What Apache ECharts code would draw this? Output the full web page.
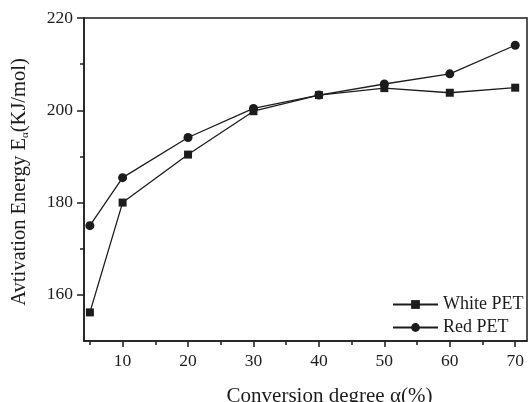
<!DOCTYPE html>
<html>
<head>
<meta charset="utf-8">
<script src="https://cdn.jsdelivr.net/npm/echarts@6/dist/echarts.min.js"></script>
<style>
  html, body { margin: 0; padding: 0; background: #fff; }
  #chart { width: 529px; height: 402px; }
</style>
</head>
<body>
<div id="chart"></div>
<script>
// conversion degree (%)
const conversion = [5, 10, 20, 30, 40, 50, 60, 70]
// activation energy (kJ/mol)
const whitePET = [156.2, 180.0, 190.4, 199.8, 203.3, 204.8, 203.8, 204.9]
const redPET = [175.0, 185.4, 194.1, 200.4, 203.3, 205.7, 207.9, 214.1]

const xLabels = [10, 20, 30, 40, 50, 60, 70]
const xMinorTicks = [5, 15, 25, 35, 45, 55, 65]
const yLabels = [160, 180, 200, 220]
const yMinorTicks = [170, 190, 210]

const FONT = "'Liberation Serif', 'Times New Roman', serif"
const INK = '#1c1c1c'

function pairs(ys) {
  return conversion.map((x, i) => [x, ys[i]])
}

const chart = echarts.init(document.getElementById('chart'), null, { renderer: 'canvas' })

const baseX = {
  type: 'value',
  min: 4.1,
  max: 71.8,
  position: 'bottom',
  splitLine: { show: false },
  axisLine: { lineStyle: { color: INK, width: 1.5 } }
}
const baseY = {
  type: 'value',
  min: 150,
  max: 220,
  position: 'left',
  splitLine: { show: false },
  axisLine: { lineStyle: { color: INK, width: 1.5 } }
}

chart.setOption({
  animation: false,
  backgroundColor: '#fff',
  textStyle: { fontFamily: FONT, color: INK },
  grid: {
    left: 84, right: 2, top: 18, bottom: 61,
    containLabel: false,
    outerBoundsMode: 'none',
    show: true, borderColor: INK, borderWidth: 1.5
  },
  legend: {
    orient: 'vertical',
    left: 387,
    top: 290,
    itemWidth: 45,
    itemHeight: 11,
    itemGap: 4,
    textStyle: { fontFamily: FONT, fontSize: 18, color: INK, lineHeight: 19 },
    data: ['White PET', 'Red PET']
  },
  xAxis: [
    Object.assign({}, baseX, {
      name: 'Conversion degree α(%)',
      nameLocation: 'middle',
      nameGap: 45,
      nameTextStyle: { fontFamily: FONT, fontSize: 21, color: INK, padding: [0, 0, 0, 48] },
      axisTick: { show: true, inside: false, length: 6, customValues: xLabels, lineStyle: { color: INK, width: 1.5 } },
      axisLabel: { customValues: xLabels, margin: 11, fontFamily: FONT, fontSize: 17.5, color: INK }
    }),
    Object.assign({}, baseX, {
      axisLine: { show: false },
      axisTick: { show: true, length: 4, customValues: xMinorTicks, lineStyle: { color: INK, width: 1.5 } },
      axisLabel: { show: false }
    })
  ],
  yAxis: [
    Object.assign({}, baseY, {
      name: 'Avtivation Energy E{sub|α}(KJ/mol)',
      nameLocation: 'middle',
      nameGap: 53,
      nameTextStyle: {
        fontFamily: FONT, fontSize: 20.5, color: INK, lineHeight: 23, padding: [0, 5, 0, 0],
        rich: {
          sub: { fontFamily: FONT, fontSize: 11, color: INK, verticalAlign: 'bottom', lineHeight: 23 }
        }
      },
      axisTick: { show: true, length: 7, customValues: yLabels, lineStyle: { color: INK, width: 1.5 } },
      axisLabel: { customValues: yLabels, margin: 11, fontFamily: FONT, fontSize: 17.5, color: INK }
    }),
    Object.assign({}, baseY, {
      axisLine: { show: false },
      axisTick: { show: true, length: 4, customValues: yMinorTicks, lineStyle: { color: INK, width: 1.5 } },
      axisLabel: { show: false }
    })
  ],
  series: [
    {
      name: 'White PET',
      type: 'line',
      xAxisIndex: 0,
      yAxisIndex: 0,
      symbol: 'rect',
      symbolSize: 8,
      lineStyle: { color: INK, width: 1.3 },
      itemStyle: { color: INK },
      data: pairs(whitePET)
    },
    {
      name: 'Red PET',
      type: 'line',
      xAxisIndex: 0,
      yAxisIndex: 0,
      symbol: 'circle',
      symbolSize: 9,
      lineStyle: { color: INK, width: 1.3 },
      itemStyle: { color: INK },
      data: pairs(redPET)
    }
  ]
})
</script>
</body>
</html>
